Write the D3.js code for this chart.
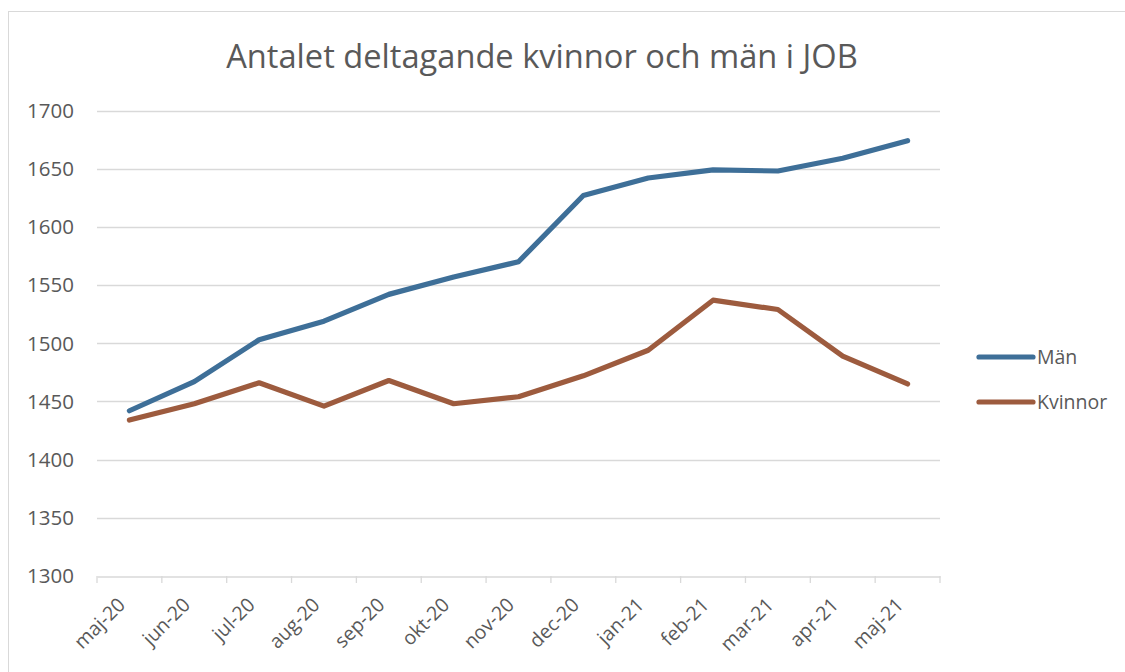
<!DOCTYPE html>
<html>
<head>
<meta charset="utf-8">
<script src="https://cdn.jsdelivr.net/npm/d3@7"></script>
<style>
  body { margin: 0; background: #fff; }
  text { font-family: "Open Sans", sans-serif; fill: #595959; }
</style>
</head>
<body>
<div id="chart"></div>
<script>
// data
var months = ['maj-20', 'jun-20', 'jul-20', 'aug-20', 'sep-20', 'okt-20', 'nov-20',
              'dec-20', 'jan-21', 'feb-21', 'mar-21', 'apr-21', 'maj-21'];
var man = [1442, 1467, 1503, 1519, 1542, 1557, 1570, 1627, 1642, 1649, 1648, 1659, 1674];
var kvinnor = [1434, 1448, 1466, 1446, 1468, 1448, 1454, 1472, 1494, 1537, 1529, 1489, 1465];
var yTicks = [1300, 1350, 1400, 1450, 1500, 1550, 1600, 1650, 1700];

var series = [
  { name: 'Män', values: man, color: '#3e6f98' },
  { name: 'Kvinnor', values: kvinnor, color: '#9d5b3e' }
];

var W = 1125, H = 672;
var svg = d3.select("#chart").append("svg")
    .attr("width", W).attr("height", H);

// chart frame
svg.append("rect")
    .attr("x", 8.5).attr("y", 11.5)
    .attr("width", W + 10).attr("height", H + 10)
    .attr("fill", "none").attr("stroke", "#d9d9d9").attr("stroke-width", 1);

var x = d3.scaleBand().domain(months).range([97, 940]);
var y = d3.scaleLinear().domain([1300, 1700]).range([576, 110.5]);

// title
var title = svg.append("text")
    .attr("x", 542).attr("y", 68)
    .attr("text-anchor", "middle")
    .style("font-size", "30px")
    .text("Antalet deltagande kvinnor och män i JOB");
var tw = title.node().getComputedTextLength();
title.style("font-size", (30 * 632 / tw) + "px");

// gridlines
svg.append("g").selectAll("line")
    .data(yTicks.slice(1))
    .enter().append("line")
    .attr("x1", 97).attr("x2", 940)
    .attr("y1", function(d) { return Math.round(y(d)) + 0.5; })
    .attr("y2", function(d) { return Math.round(y(d)) + 0.5; })
    .attr("stroke", "#d9d9d9").attr("stroke-width", 1.3);

// y labels
svg.append("g").selectAll("text")
    .data(yTicks)
    .enter().append("text")
    .attr("x", 74)
    .attr("y", function(d) { return y(d); })
    .attr("dy", "0.36em")
    .attr("text-anchor", "end")
    .style("font-size", "20.5px")
    .text(function(d) { return d; });

// x axis
var xAxis = svg.append("g")
    .attr("transform", "translate(0,576.5)")
    .call(d3.axisBottom(x).tickSize(0).tickFormat(""));
xAxis.select(".domain").attr("stroke", "#d9d9d9").attr("stroke-width", 1.3);

var edges = months.map(function(m) { return x(m); }).concat([x.range()[1]]);
svg.append("g").selectAll("line")
    .data(edges)
    .enter().append("line")
    .attr("x1", function(d) { return d; }).attr("x2", function(d) { return d; })
    .attr("y1", 576).attr("y2", 583)
    .attr("stroke", "#d9d9d9").attr("stroke-width", 1.3);

svg.append("g").selectAll("text")
    .data(months)
    .enter().append("text")
    .attr("text-anchor", "end")
    .attr("transform", function(d) {
      return "translate(" + (x(d) + x.bandwidth() / 2 - 3) + ",606) rotate(-45)";
    })
    .style("font-size", "19.5px")
    .text(function(d) { return d; });

// lines
var line = d3.line()
    .x(function(d, i) { return x(months[i]) + x.bandwidth() / 2; })
    .y(function(d) { return y(d); });

svg.append("g").selectAll("path")
    .data(series)
    .enter().append("path")
    .attr("d", function(s) { return line(s.values); })
    .attr("fill", "none")
    .attr("stroke", function(s) { return s.color; })
    .attr("stroke-width", 5.2)
    .attr("stroke-linecap", "round")
    .attr("stroke-linejoin", "round");

// legend
var leg = svg.append("g").selectAll("g")
    .data(series)
    .enter().append("g")
    .attr("transform", function(s, i) { return "translate(979," + (357 + i * 45) + ")"; });

leg.append("line")
    .attr("x1", 0).attr("x2", 54)
    .attr("stroke", function(s) { return s.color; })
    .attr("stroke-width", 5.2)
    .attr("stroke-linecap", "round");

leg.append("text")
    .attr("x", 58)
    .attr("dy", "0.36em")
    .style("font-size", "19.5px")
    .text(function(s) { return s.name; });
</script>
</body>
</html>
